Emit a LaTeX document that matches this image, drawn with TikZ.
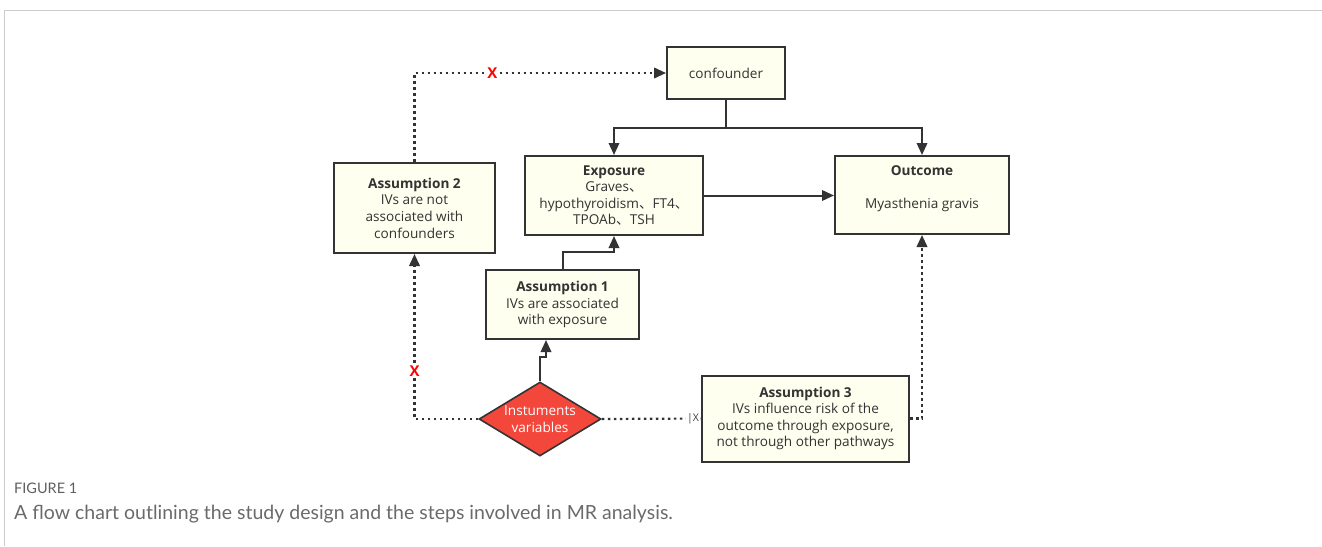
\documentclass[tikz,border=0pt]{standalone}
\usepackage{fontspec}
\setmainfont{Open Sans}
\newfontfamily\cjkfont{Noto Sans CJK SC}
\newfontfamily\capfont{Lato}
\usetikzlibrary{positioning,arrows.meta,shapes.geometric,calc}
\definecolor{boxfill}{HTML}{FEFFEE}
\definecolor{boxline}{HTML}{333333}
\definecolor{ivred}{HTML}{F4473B}
\definecolor{framegray}{HTML}{CCCCCC}
\definecolor{capgray}{HTML}{6A6A6A}
\newcommand{\dun}{{\cjkfont 、}}

\begin{document}
\begin{tikzpicture}[
    x=1pt, y=-1pt,
    stepbox/.style={
        rectangle,
        draw=boxline,
        line width=2pt,
        fill=boxfill,
        align=center,
        inner sep=0pt,
        text=black!80,
        font=\fontsize{13.6}{16.6}\selectfont
    },
    ivbox/.style={
        diamond,
        draw=boxline,
        line width=1.6pt,
        fill=ivred,
        aspect=1.65,
        inner sep=0pt,
        minimum width=122pt,
        minimum height=74pt,
        align=center,
        text=white,
        font=\fontsize{13.6}{16.6}\selectfont
    },
    flow/.style={draw=boxline, line width=2pt, ->},
    dotflow/.style={draw=boxline, line width=2.2pt, dash pattern=on 2.6pt off 3.4pt},
    cross/.style={fill=white, text=red, font=\bfseries\fontsize{15}{15}\selectfont, inner sep=1pt},
    >={Triangle[length=12pt,width=10.5pt]}
]
\useasboundingbox (0,0) rectangle (1322,546);
\draw[framegray, line width=1pt] (4,546) -- (4,10) -- (1322,10);

% boxes
\node[stepbox, minimum width=118pt, minimum height=52pt] (conf) at (726,73) {confounder};
\node[stepbox, minimum width=178pt, minimum height=79pt] (expo) at (614,195.5) {
    \textbf{Exposure}\\
    Graves\dun\\
    hypothyroidism\dun FT4\dun\\
    TPOAb\dun TSH};
\node[stepbox, minimum width=174pt, minimum height=78pt] (outc) at (922,195) {
    \textbf{Outcome}\\
    \mbox{}\\
    Myasthenia gravis\\
    \mbox{}};
\node[stepbox, minimum width=161pt, minimum height=90pt] (asm2) at (414.5,208) {
    \textbf{Assumption 2}\\
    IVs are not\\
    associated with\\
    confounders};
\node[stepbox, minimum width=153pt, minimum height=69pt] (asm1) at (562.5,304.5) {
    \textbf{Assumption 1}\\
    IVs are associated\\
    with exposure};
\node[ivbox] (ivs) at (540,419) {Instuments\\variables};
\node[stepbox, minimum width=207pt, minimum height=86pt] (asm3) at (805.5,418.5) {
    \textbf{Assumption 3}\\
    IVs influence risk of the\\
    outcome through exposure,\\
    not through other pathways};

% solid links
\draw[flow] (conf.south) -- ++(0,28) coordinate (fork) -| (expo.north);
\draw[flow] (fork) -| (outc.north);
\draw[flow] (expo.east) -- (expo.east -| outc.west);
\draw[flow] (asm1.north) -- ++(0,-17) -| (expo.south);
\draw[flow] (ivs.north) -- ++(0,-24) -| ([xshift=-16.5pt]asm1.south);

% dotted links
\draw[dotflow, ->] (asm2.north) |- (conf.west) node[cross, pos=0.655] {X};
\draw[dotflow, ->] (ivs.west) -| (asm2.south) node[cross, pos=0.645] {X};
\draw[dotflow] (ivs.east) -- (asm3.west)
    node[at end, anchor=east, fill=white, inner sep=1pt, text=black!75, font=\fontsize{10.5}{10.5}\selectfont] {|X};
\draw[dotflow, ->] (asm3.east) -| (outc.south);

% caption
\node[anchor=west, inner sep=0pt, text=capgray!90!black, font=\capfont\fontsize{14.5}{15}\selectfont] (figlabel) at (14,488) {FIGURE 1};
\node[anchor=west, inner sep=0pt, text=capgray, font=\capfont\fontsize{19.5}{21}\selectfont] (figcaption) at (14,514) {A flow chart outlining the study design and the steps involved in MR analysis.};
\end{tikzpicture}
\end{document}
